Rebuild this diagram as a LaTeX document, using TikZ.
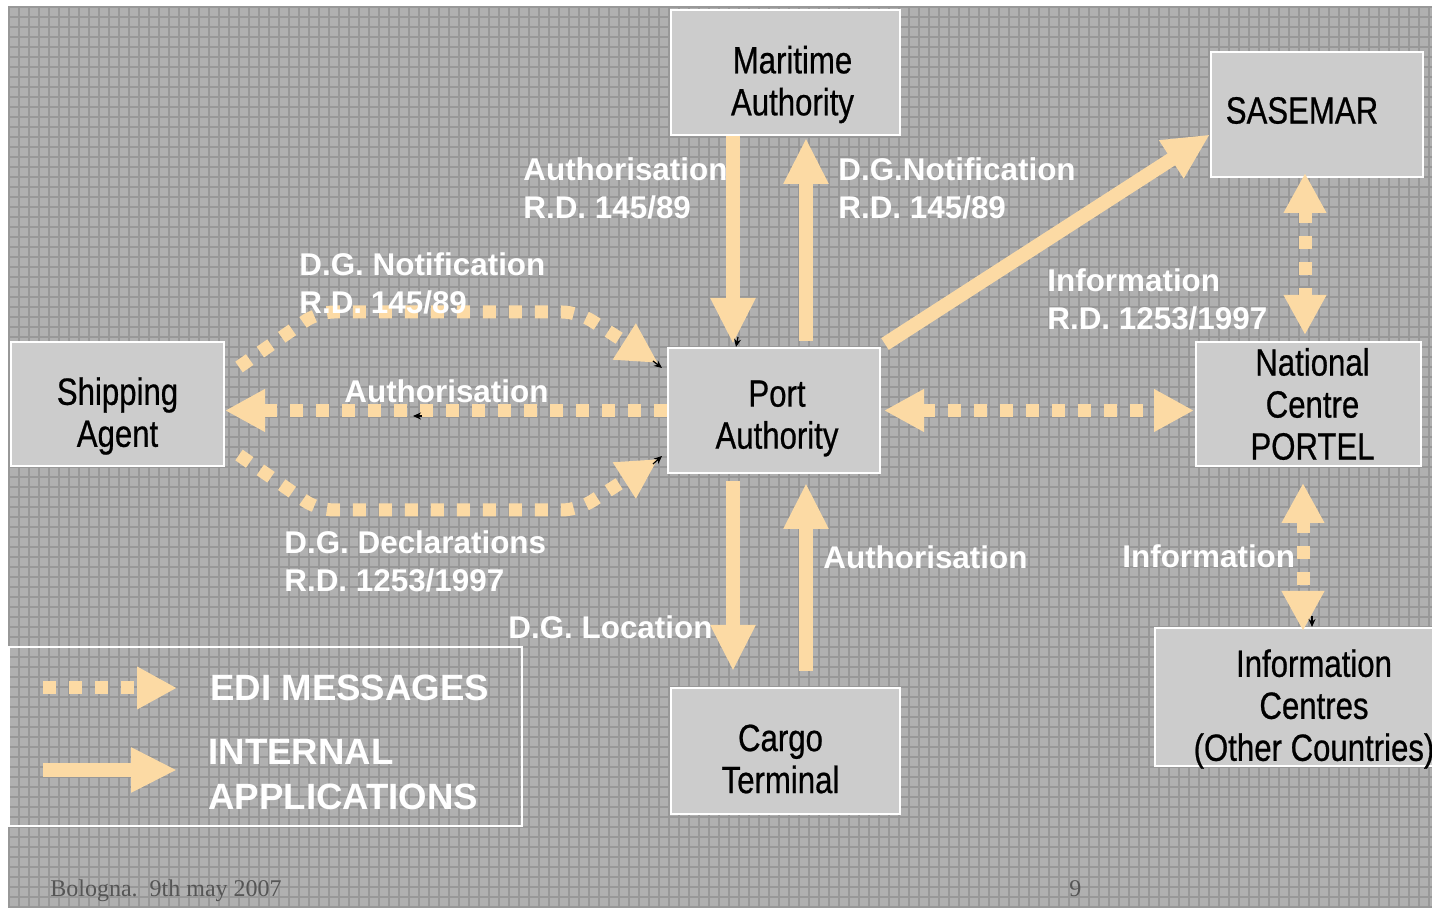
\documentclass[tikz,border=0pt]{standalone}
\usepackage{fontspec}
\setmainfont{Liberation Sans}
\newfontfamily\boxfont[FakeStretch=0.82, FakeBold=0.6]{Liberation Sans}
\newfontfamily\datefont{Liberation Serif}
\usetikzlibrary{arrows.meta, calc}

\definecolor{slidegray}{RGB}{176,176,176}
\definecolor{gridgray}{RGB}{152,152,152}
\definecolor{boxgray}{RGB}{204,204,204}
\definecolor{peach}{RGB}{252,218,164}
\definecolor{footgray}{RGB}{85,85,85}

\begin{document}
\begin{tikzpicture}[x=0.5pt, y=-0.5pt, line join=miter,
    box/.style={draw=white, line width=1pt, fill=boxgray, inner sep=0pt},
    boxtext/.style={inner sep=0pt, align=center, font=\boxfont\fontsize{19}{21}\selectfont},
    lbl/.style={anchor=north west, inner sep=0pt, align=left, text=white,
                font=\fontsize{15.7}{19}\selectfont\bfseries},
    biglbl/.style={lbl, font=\fontsize{18.3}{22.5}\selectfont\bfseries},
    app/.style={draw=peach, line width=7pt,
                -{Triangle[length=23pt, width=21pt]}},
    edi/.style={draw=peach, line width=6.5pt, dash pattern=on 6.5pt off 6.5pt,
                -{Triangle[length=20pt, width=20pt]}},
    edii/.style={edi, {Triangle[length=20pt, width=20pt]}-{Triangle[length=20pt, width=20pt]}},
    blip/.style={line width=0.6pt, -{Stealth[length=4pt, width=3.5pt]}}]

  % Page and slide background
  \useasboundingbox (0,0) rectangle (1432,908);
  \clip (0,0) rectangle (1432,908);
  \fill[white] (0,0) rectangle (1432,908);
  \fill[slidegray] (8,7) rectangle (1432,908);
  \foreach \x in {9,19,...,1429} \draw[gridgray, line width=0.6pt] (\x,7) -- (\x,908);
  \foreach \y in {7,17,...,907} \draw[gridgray, line width=0.6pt] (8,\y) -- (1432,\y);

  % Boxes
  \node[box, minimum width=114.5pt, minimum height=62.5pt] (maritime) at (785.5,72.5) {};
  \node[box, minimum width=106pt, minimum height=62.5pt] (sasemar) at (1317,114.5) {};
  \node[box, minimum width=106.5pt, minimum height=62pt] (shipping) at (117.5,404) {};
  \node[box, minimum width=106pt, minimum height=62.5pt] (port) at (774,410.5) {};
  \node[box, minimum width=112.5pt, minimum height=62pt] (portel) at (1308.5,404) {};
  \node[box, minimum width=114.5pt, minimum height=63pt] (cargo) at (785.5,751) {};
  \node[box, minimum width=163pt, minimum height=69pt] (infoc) at (1318,697) {};

  % Box texts
  \node[boxtext] (maritimetxt) at ($(maritime)+(7,12)$) {Maritime\\Authority};
  \node[boxtext] (sasemartxt) at ($(sasemar)+(-15,-4)$) {SASEMAR};
  \node[boxtext] (shippingtxt) at ($(shipping)+(0,12)$) {Shipping\\Agent};
  \node[boxtext] (porttxt) at ($(port)+(3,8)$) {Port\\Authority};
  \node[boxtext] (porteltxt) at ($(portel)+(4,0)$) {National\\Centre\\PORTEL};
  \node[boxtext] (cargotxt) at ($(cargo)+(-5,8)$) {Cargo\\Terminal};
  \node[boxtext] (infoctxt) at ($(infoc)+(-4,12)$) {Information\\Centres\\(Other Countries)};

  % Legend frame
  \node[draw=white, line width=1pt, minimum width=256.5pt, minimum height=89.5pt] (legend) at (265.5,736.5) {};

  % Internal applications
  \draw[app, shorten >=1.5pt] (733,0 |- maritime.south) -- (733,0 |- port.north);
  \draw[app, shorten <=3pt, shorten >=1pt] (806,0 |- port.north) -- (806,0 |- maritime.south);
  \draw[app] ($(port.north east)+(4,-3)$) -- ($(sasemar.west)+(0,20)$);
  \draw[app, shorten <=3.5pt, shorten >=8pt] (733,0 |- port.south) -- (733,0 |- cargo.north);
  \draw[app, shorten <=8pt, shorten >=4.5pt] (806,0 |- cargo.north) -- (806,0 |- port.south);

  % EDI messages
  \coordinate (nw1) at (318,312);
  \coordinate (nw2) at (578,312);
  \coordinate (sw1) at (318,510);
  \coordinate (sw2) at (578,510);
  \draw[edi, rounded corners=8pt] ($(shipping.north east)+(14,26)$) -- (nw1) -- (nw2) -- ($(port.north west)+(-9,16)$);
  \draw[edi, rounded corners=8pt] ($(shipping.south east)+(14,-12)$) -- (sw1) -- (sw2) -- ($(port.south west)+(-9,-15)$);
  \draw[edi] (port.west) -- (port.west -| shipping.east);
  \draw[edii, shorten <=1.5pt, shorten >=0.5pt] (port.east) -- (port.east -| portel.west);
  \draw[edii, shorten <=-2.5pt, shorten >=3pt] (1305,0 |- sasemar.south) -- (1305,0 |- portel.north);
  \draw[edii, shorten <=8pt, shorten >=-2pt] (1303,0 |- portel.south) -- (1303,0 |- infoc.north);

  % Legend arrows
  \coordinate (edis) at (43,688);
  \coordinate (edie) at (177,688);
  \coordinate (apps) at (43,770);
  \coordinate (appe) at (177,770);
  \draw[edi] (edis) -- (edie);
  \draw[app] (apps) -- (appe);

  % Small black tips
  \draw[blip] (653,361) -- (662,368);
  \draw[blip] (653,464) -- (662,456);
  \draw[blip] (422,416) -- (413,416);
  \draw[blip] (738,337) -- (736,347);
  \draw[blip] (1312,616) -- (1312,627);

  % Labels
  \node[lbl] (authma) at (523,157) {Authorisation\\R.D. 145/89};
  \node[lbl] (notma) at (838,157) {D.G.Notification\\R.D. 145/89};
  \node[lbl] (notsh) at (299,252) {D.G. Notification\\R.D. 145/89};
  \node[lbl] (authsh) at (344,379) {Authorisation};
  \node[lbl] (declsh) at (284,530) {D.G. Declarations\\R.D. 1253/1997};
  \node[lbl] (locct) at (508,615) {D.G. Location};
  \node[lbl] (authct) at (823,545) {Authorisation};
  \node[lbl] (infosa) at (1047,268) {Information\\R.D. 1253/1997};
  \node[lbl] (infoic) at (1122,544) {Information};
  \node[biglbl] (edilbl) at (210,675) {EDI MESSAGES};
  \node[biglbl] (applbl) at (208,739) {INTERNAL\\APPLICATIONS};

  % Footer
  \node[anchor=base west, inner sep=0pt, text=footgray, font=\datefont\fontsize{12}{14}\selectfont] (date) at (50,897) {Bologna.\enspace 9th may 2007};
  \node[anchor=base west, inner sep=0pt, text=footgray, font=\datefont\fontsize{12}{14}\selectfont] (pageno) at (1069,897) {9};
\end{tikzpicture}
\end{document}
